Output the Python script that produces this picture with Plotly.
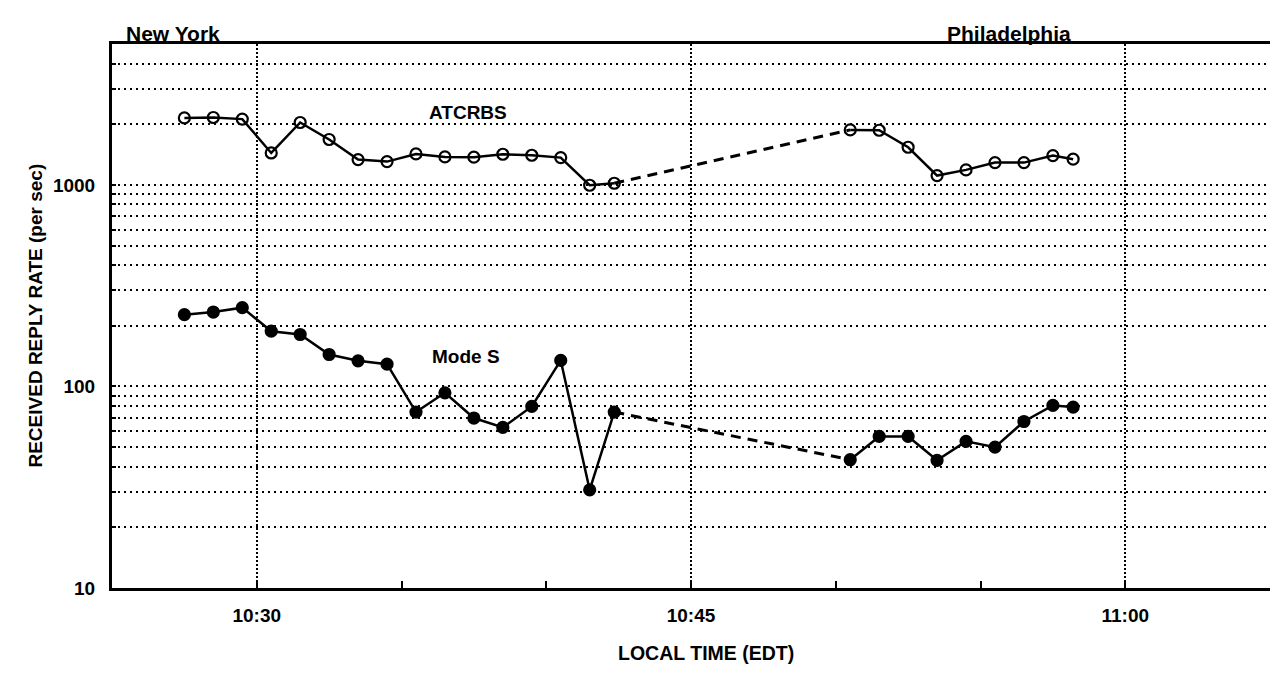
import plotly.graph_objects as go

DAY = "2000-01-01 "

# ATCRBS (open circles)
atc_ny_t = ["10:27:30", "10:28:30", "10:29:30", "10:30:30", "10:31:30", "10:32:30", "10:33:30",
            "10:34:30", "10:35:30", "10:36:30", "10:37:30", "10:38:30", "10:39:30", "10:40:30",
            "10:41:30", "10:42:21"]
atc_ny_v = [2150, 2160, 2120, 1440, 2040, 1680, 1335, 1305, 1424, 1377, 1372, 1419, 1403, 1366,
            996, 1019]
atc_ph_t = ["10:50:30", "10:51:30", "10:52:30", "10:53:30", "10:54:30", "10:55:30", "10:56:30",
            "10:57:30", "10:58:12"]
atc_ph_v = [1874, 1867, 1537, 1112, 1187, 1290, 1290, 1398, 1341]

# Mode S (filled circles)
ms_ny_t = atc_ny_t
ms_ny_v = [227, 234, 246, 188, 181, 144, 134, 129, 74.6, 93, 69.7, 62.6, 79.6, 134.6, 30.7, 74.6]
ms_ph_t = atc_ph_t
ms_ph_v = [43.3, 56.5, 56.5, 43, 53.4, 50, 67, 80.5, 79]

y_grid_vals = [10, 20, 30, 40, 50, 60, 70, 80, 90,
               100, 200, 300, 400, 500, 600, 700, 800, 900,
               1000, 2000, 3000, 4000, 5000]
y_tick_labels = {10: "10", 100: "100", 1000: "1000"}

x_tick_vals = ["10:30", "10:45", "11:00"]
x_minor_vals = ["10:35", "10:40", "10:50", "10:55"]

FONT = "Liberation Sans, Arial, Helvetica, sans-serif"

def tt(lst):
    return [DAY + t for t in lst]

def bold(s):
    return "<b>" + s + "</b>"

fig = go.Figure()

def add_series(t_ny, v_ny, t_ph, v_ph, symbol):
    fig.add_trace(go.Scatter(x=[DAY + t_ny[-1], DAY + t_ph[0]], y=[v_ny[-1], v_ph[0]],
                             mode="lines", line=dict(color="black", width=3, dash="10px,7px"),
                             hoverinfo="skip", showlegend=False))
    for t, v in ((t_ny, v_ny), (t_ph, v_ph)):
        fig.add_trace(go.Scatter(x=tt(t), y=v, mode="lines+markers",
                                 line=dict(color="black", width=2.5),
                                 marker=dict(symbol=symbol, size=11, color="black",
                                             line=dict(color="black", width=2.2)),
                                 showlegend=False))

add_series(atc_ny_t, atc_ny_v, atc_ph_t, atc_ph_v, "circle-open")
add_series(ms_ny_t, ms_ny_v, ms_ph_t, ms_ph_v, "circle")

fig.update_xaxes(
    type="date",
    range=[DAY + "10:25:00", DAY + "11:05:00"],
    tickvals=tt(x_tick_vals),
    ticktext=[bold(s) for s in x_tick_vals],
    ticks="inside", ticklen=6, tickwidth=1.5, tickcolor="black",
    ticklabelstandoff=8,
    showgrid=True, gridcolor="black", gridwidth=1.5, griddash="2px,2px",
    minor=dict(tickvals=tt(x_minor_vals), ticks="inside", ticklen=7, tickwidth=1.8,
               tickcolor="black", showgrid=False),
    showline=True, linecolor="black", linewidth=3, mirror=True,
    zeroline=False, automargin=False,
    tickfont=dict(family=FONT, size=19, color="black"),
)

fig.update_yaxes(
    type="log",
    range=[1, 3.699],
    tickvals=y_grid_vals,
    ticktext=[bold(y_tick_labels[v]) if v in y_tick_labels else "" for v in y_grid_vals],
    ticks="inside", ticklen=4, tickwidth=1.5, tickcolor="black",
    ticklabelstandoff=10,
    showgrid=True, gridcolor="black", gridwidth=1.6, griddash="2px,4px",
    showline=True, linecolor="black", linewidth=3, mirror=False,
    zeroline=False, automargin=False,
    tickfont=dict(family=FONT, size=19, color="black"),
)

ann_font = dict(family=FONT, size=19, color="black")
fig.add_annotation(text=bold("ATCRBS"), x=DAY + "10:37:17", y=3.357, xref="x", yref="y",
                   showarrow=False, font=ann_font)
fig.add_annotation(text=bold("Mode S"), x=DAY + "10:37:13", y=2.149, xref="x", yref="y",
                   showarrow=False, font=ann_font)
fig.add_annotation(text=bold("New York"), x=0.010, y=1.044, xref="paper", yref="paper",
                   xanchor="left", showarrow=False, font=dict(family=FONT, size=21, color="black"))
fig.add_annotation(text=bold("Philadelphia"), x=DAY + "10:56:00", y=1.044, xref="x", yref="paper",
                   showarrow=False, font=dict(family=FONT, size=21, color="black"))
fig.add_annotation(text=bold("LOCAL TIME (EDT)"), x=0.513, y=-0.1425, xref="paper", yref="paper",
                   showarrow=False, font=dict(family=FONT, size=19.5, color="black"))
fig.add_annotation(text=bold("RECEIVED REPLY RATE (per sec)"), x=-0.0777, y=0.5,
                   xref="paper", yref="paper", textangle=-90,
                   showarrow=False, font=dict(family=FONT, size=19, color="black"))

fig.update_layout(
    width=1270, height=679,
    margin=dict(l=112, r=0, t=44, b=91),
    paper_bgcolor="white", plot_bgcolor="white",
    showlegend=False,
    font=dict(family=FONT, color="black"),
)

fig.write_html(
    "out.html",
    config={"displayModeBar": False},
    post_script="document.body.style.margin='0';document.body.style.overflow='hidden';"
                "document.documentElement.style.overflow='hidden';",
)
